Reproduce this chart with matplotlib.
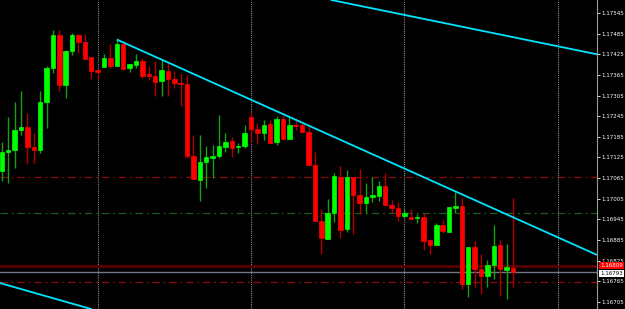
import numpy as np
import matplotlib
matplotlib.use("Agg")
import matplotlib.pyplot as plt

# ── data (prices) ────────────────────────────────────────────────────────────
opens = [1.17086, 1.17141, 1.17147, 1.17205, 1.17214, 1.17156, 1.17147, 1.17286, 1.17384, 1.17480,
         1.17336, 1.17435, 1.17481, 1.17461, 1.17416, 1.17379, 1.17388, 1.17415, 1.17392, 1.17455,
         1.17385, 1.17394, 1.17406, 1.17368, 1.17362, 1.17348, 1.17377, 1.17354, 1.17342, 1.17339,
         1.17130, 1.17060, 1.17111, 1.17124, 1.17129, 1.17156, 1.17172, 1.17154, 1.17158, 1.17243,
         1.17209, 1.17197, 1.17221, 1.17169, 1.17238, 1.17179, 1.17219, 1.17219, 1.17199, 1.17103,
         1.16941, 1.16889, 1.16962, 1.17068, 1.16918, 1.17068, 1.17016, 1.16993, 1.17011, 1.17014,
         1.17043, 1.16986, 1.16979, 1.16954, 1.16952, 1.16949, 1.16952, 1.16886, 1.16871, 1.16928,
         1.16908, 1.16979, 1.16984, 1.16757, 1.16863, 1.16801, 1.16780, 1.16811, 1.16869, 1.16798,
         1.16804]
highs = [1.17170, 1.17243, 1.17286, 1.17318, 1.17254, 1.17196, 1.17319, 1.17392, 1.17496, 1.17496,
         1.17438, 1.17486, 1.17483, 1.17484, 1.17417, 1.17380, 1.17427, 1.17454, 1.17470, 1.17456,
         1.17397, 1.17425, 1.17415, 1.17390, 1.17406, 1.17410, 1.17402, 1.17376, 1.17368, 1.17366,
         1.17191, 1.17191, 1.17158, 1.17161, 1.17247, 1.17195, 1.17185, 1.17166, 1.17219, 1.17261,
         1.17224, 1.17234, 1.17234, 1.17245, 1.17248, 1.17242, 1.17240, 1.17229, 1.17217, 1.17142,
         1.16975, 1.17004, 1.17079, 1.17101, 1.17087, 1.17069, 1.17091, 1.17051, 1.17069, 1.17056,
         1.17080, 1.17001, 1.16996, 1.16974, 1.16974, 1.16959, 1.16964, 1.16887, 1.16935, 1.16943,
         1.16982, 1.17025, 1.17008, 1.16863, 1.16883, 1.16843, 1.16826, 1.16928, 1.16885, 1.16873,
         1.17007]
lows = [1.17057, 1.17051, 1.17095, 1.17190, 1.17106, 1.17110, 1.17137, 1.17210, 1.17370, 1.17319,
        1.17299, 1.17424, 1.17428, 1.17412, 1.17353, 1.17350, 1.17387, 1.17384, 1.17391, 1.17382,
        1.17374, 1.17386, 1.17355, 1.17351, 1.17304, 1.17305, 1.17305, 1.17326, 1.17275, 1.17122,
        1.17061, 1.16999, 1.17037, 1.17065, 1.17122, 1.17142, 1.17125, 1.17137, 1.17151, 1.17171,
        1.17163, 1.17176, 1.17166, 1.17161, 1.17179, 1.17179, 1.17205, 1.17198, 1.17103, 1.16940,
        1.16843, 1.16889, 1.16938, 1.16890, 1.16907, 1.16903, 1.16961, 1.16962, 1.16994, 1.16998,
        1.16986, 1.16963, 1.16940, 1.16948, 1.16946, 1.16933, 1.16856, 1.16844, 1.16870, 1.16904,
        1.16907, 1.16962, 1.16741, 1.16718, 1.16749, 1.16727, 1.16747, 1.16771, 1.16722, 1.16712,
        1.16747]
closes = [1.17141, 1.17147, 1.17205, 1.17213, 1.17156, 1.17147, 1.17287, 1.17384, 1.17481, 1.17336,
          1.17435, 1.17482, 1.17462, 1.17412, 1.17376, 1.17374, 1.17415, 1.17392, 1.17455, 1.17382,
          1.17397, 1.17406, 1.17363, 1.17362, 1.17345, 1.17378, 1.17353, 1.17342, 1.17339, 1.17130,
          1.17061, 1.17112, 1.17125, 1.17129, 1.17157, 1.17171, 1.17153, 1.17159, 1.17196, 1.17208,
          1.17196, 1.17219, 1.17166, 1.17236, 1.17179, 1.17218, 1.17216, 1.17199, 1.17103, 1.16940,
          1.16890, 1.16963, 1.17071, 1.16915, 1.17068, 1.17015, 1.16993, 1.17010, 1.17016, 1.17041,
          1.16986, 1.16978, 1.16955, 1.16963, 1.16946, 1.16952, 1.16882, 1.16871, 1.16928, 1.16910,
          1.16982, 1.16984, 1.16757, 1.16863, 1.16801, 1.16780, 1.16811, 1.16867, 1.16801, 1.16805,
          1.16793]

price_ticks = [1.17545, 1.17485, 1.17425, 1.17365, 1.17305, 1.17245, 1.17185, 1.17125,
               1.17065, 1.17005, 1.16945, 1.16885, 1.16825, 1.16765, 1.16705]
day_breaks = [15, 39, 63, 87]          # bar index of the dotted separators
red_levels = [1.17068, 1.16762]       # dash-dot red levels
green_levels = [1.16963]              # dash-dot green level
ask_price = 1.16809
bid_price = 1.16793

# trendlines as two anchors (bar index, price)
trend_main = [(18, 1.17468), (80, 1.16951)]    # ray to the right
trend_upper = [(60, 1.17551), (90, 1.17437)]
trend_lower = [(0, 1.16758), (10, 1.16705)]

x_range = (-0.28, 93.15)
y_range = (1.16684, 1.17583)

# ── figure ───────────────────────────────────────────────────────────────────
BG = "#000000"
UP_BODY, DN_BODY = "#00ff00", "#ff0000"
UP_WICK, DN_WICK = "#16a016", "#b00000"
FS = 4.0

fig = plt.figure(figsize=(6.25, 3.09), dpi=100, facecolor=BG)
ax = fig.add_axes([0, 0, 597 / 625, 1])
ax.set_facecolor(BG)

idx = np.arange(len(closes))
o = np.array(opens)
h = np.array(highs)
l = np.array(lows)
c = np.array(closes)
up = c >= o

# levels & separators
for lv in red_levels:
    ax.axhline(lv, color="#8c0a0a", lw=0.9, ls=(0, (6, 3, 1.5, 3)), zorder=1)
for lv in green_levels:
    ax.axhline(lv, color="#1c5c1c", lw=0.9, ls=(0, (6, 3, 1.5, 3)), zorder=1)
for d in day_breaks:
    ax.axvline(d, color="#8a8a8a", lw=0.8, ls=(0, (1, 1)), zorder=1)
ax.axhline(ask_price, color="#5a0000", lw=2.0, zorder=1)
ax.axhline(bid_price, color="#707a86", lw=1.0, zorder=1)

# candles
ax.vlines(idx[up], l[up], h[up], color=UP_WICK, lw=1.0, zorder=2)
ax.vlines(idx[~up], l[~up], h[~up], color=DN_WICK, lw=1.0, zorder=2)
body_lo = np.minimum(o, c)
body_h = np.abs(c - o)
ax.bar(idx[up], body_h[up], bottom=body_lo[up], width=0.7,
       color=UP_BODY, edgecolor=UP_BODY, lw=0.5, zorder=3)
ax.bar(idx[~up], body_h[~up], bottom=body_lo[~up], width=0.7,
       color=DN_BODY, edgecolor=DN_BODY, lw=0.5, zorder=3)

# trendlines
(x0, y0), (x1, y1) = trend_main
slope = (y1 - y0) / (x1 - x0)
ax.plot([x0, x_range[1]], [y0, y0 + slope * (x_range[1] - x0)],
        color="#00e5ff", lw=1.3, zorder=4, solid_capstyle="butt")
ax.axline(trend_upper[0], trend_upper[1], color="#00e5ff", lw=1.3, zorder=4)
ax.axline(trend_lower[0], trend_lower[1], color="#00e5ff", lw=1.3, zorder=4)

ax.set_xlim(*x_range)
ax.set_ylim(*y_range)

# price axis on the right
ax.yaxis.tick_right()
ax.set_yticks(price_ticks)
ax.set_yticklabels([f"{p:.5f}" for p in price_ticks])
ax.tick_params(axis="y", colors="white", labelsize=FS, length=2, width=0.6, pad=1.0)
ax.set_xticks([])
for side in ("top", "left", "bottom"):
    ax.spines[side].set_visible(False)
ax.spines["right"].set_color("#9a9a9a")
ax.spines["right"].set_linewidth(0.8)

# price tags
ax.annotate(f"{ask_price:.5f}", xy=(1.0, ask_price), xycoords=("axes fraction", "data"),
            xytext=(2.2, 0.6), textcoords="offset points", va="center", ha="left",
            fontsize=FS, color="white", annotation_clip=False,
            bbox=dict(boxstyle="square,pad=0.15", fc="#ff0000", ec="none"), zorder=6)
ax.annotate(f"{bid_price:.5f}", xy=(1.0, bid_price), xycoords=("axes fraction", "data"),
            xytext=(2.2, -1.2), textcoords="offset points", va="center", ha="left",
            fontsize=FS, color="black", annotation_clip=False,
            bbox=dict(boxstyle="square,pad=0.15", fc="white", ec="none"), zorder=7)

fig.savefig("out.png", dpi=100, facecolor=BG)
